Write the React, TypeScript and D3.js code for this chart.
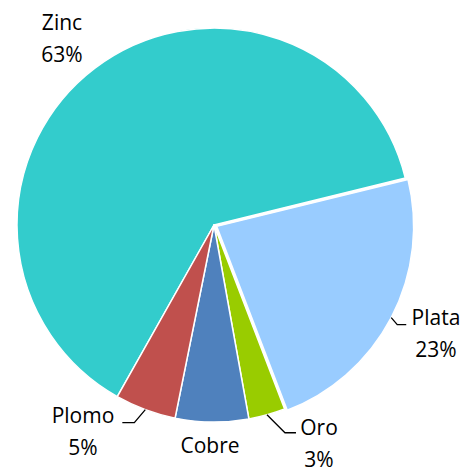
import React from "react";
import * as d3 from "d3";

const categories = ["Zinc", "Plata", "Oro", "Cobre", "Plomo"];
const values = [63, 23, 3, 6, 5];
const percentLabels = ["63%", "23%", "3%", "6%", "5%"];
const colors = ["#33CCCC", "#99CCFF", "#99CC00", "#4F81BD", "#C0504D"];
const exploded = ["Plata"];

// where each label sits (text center x, first baseline y) and its leader elbow
const labelLayout: Record<string, { x: number; y: number; leader?: [number, number][] }> = {
  Zinc: { x: 62, y: 30 },
  Plata: { x: 436, y: 325, leader: [[6, 7], [15, 7]] },
  Oro: { x: 319, y: 435, leader: [[18, 18], [29, 18]] },
  Cobre: { x: 210, y: 453 },
  Plomo: { x: 83, y: 423, leader: [[-11, 13], [-23, 13]] },
};

const W = 465;
const H = 467;
const cx = 214;
const cy = 225;
const radius = 197;
const explodeBy = 3;
const lineGap = 32;

export default function App() {
  const data = categories.map((c, i) => ({ name: c, value: values[i], label: percentLabels[i], color: colors[i] }));

  const startDeg = 76.2 - (values[0] / d3.sum(values)) * 360;
  const pie = d3
    .pie<any>()
    .sort(null)
    .value((d) => d.value)
    .startAngle((startDeg * Math.PI) / 180)
    .endAngle((startDeg * Math.PI) / 180 + Math.PI * 2);
  const arcs = pie(data);
  const arc = d3.arc<any>().innerRadius(0).outerRadius(radius);

  return (
    <svg
      width={W}
      height={H}
      style={{ position: "absolute", left: 0, top: 0, background: "#fff" }}
      fontFamily="'Open Sans', sans-serif"
    >
      <g transform={`translate(${cx},${cy})`}>
        {arcs.map((a) => {
          const mid = (a.startAngle + a.endAngle) / 2;
          const off = exploded.includes(a.data.name) ? explodeBy : 0;
          const ox = Math.sin(mid) * off;
          const oy = -Math.cos(mid) * off;
          return (
            <path
              key={a.data.name}
              d={arc(a) as string}
              transform={`translate(${ox},${oy})`}
              fill={a.data.color}
              stroke="#fff"
              strokeWidth={1.5}
              strokeLinejoin="round"
            />
          );
        })}
      </g>
      {arcs.map((a) => {
        const lay = labelLayout[a.data.name];
        const mid = (a.startAngle + a.endAngle) / 2;
        const off = exploded.includes(a.data.name) ? explodeBy : 0;
        const sx = cx + Math.sin(mid) * (radius + off);
        const sy = cy - Math.cos(mid) * (radius + off);
        const pts: [number, number][] = lay.leader
          ? [[sx, sy], ...lay.leader.map(([dx, dy]) => [sx + dx, sy + dy] as [number, number])]
          : [];
        return (
          <g key={"lbl-" + a.data.name}>
            {pts.length > 0 && (
              <polyline
                points={pts.map((p) => p.join(",")).join(" ")}
                fill="none"
                stroke="#000"
                strokeWidth={1.3}
              />
            )}
            <text x={lay.x} y={lay.y} textAnchor="middle" fontSize={21} fill="#000">
              {a.data.name}
            </text>
            <text x={lay.x} y={lay.y + lineGap} textAnchor="middle" fontSize={21} fill="#000">
              {a.data.label}
            </text>
          </g>
        );
      })}
    </svg>
  );
}
